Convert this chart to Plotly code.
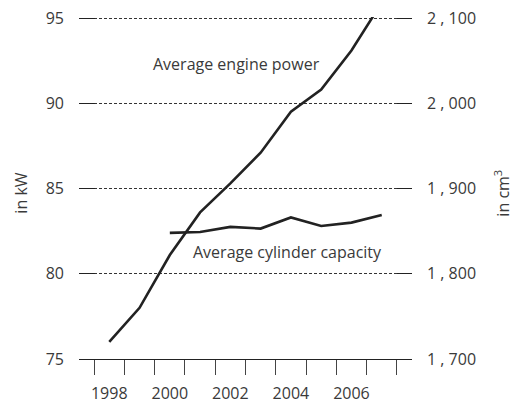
import plotly.graph_objects as go

years_power = [1998, 1999, 2000, 2001, 2002, 2003, 2004, 2005, 2006, 2007]
engine_power_kw = [76.0, 78.0, 81.1, 83.6, 85.3, 87.1, 89.5, 90.8, 93.1, 95.9]

years_capacity = [2000, 2001, 2002, 2003, 2004, 2005, 2006, 2007]
cylinder_capacity_cm3 = [1848, 1849, 1855, 1853, 1866, 1856, 1860, 1869]

x_tick_labels = [1998, 2000, 2002, 2004, 2006]
left_tick_vals = [75, 80, 85, 90, 95]
right_tick_vals = [1700, 1800, 1900, 2000, 2100]
right_tick_text = ["1 , 700", "1 , 800", "1 , 900", "2 , 000", "2 , 100"]

FONT = "Open Sans"
TEXT = "#3a3a3a"
LINE = "#222222"

fig = go.Figure()
fig.add_trace(go.Scatter(x=years_power, y=engine_power_kw, mode="lines",
                         line=dict(color=LINE, width=2.6), yaxis="y", showlegend=False))
fig.add_trace(go.Scatter(x=years_capacity, y=cylinder_capacity_cm3, mode="lines",
                         line=dict(color=LINE, width=2.6), yaxis="y2", showlegend=False))

fig.update_layout(
    width=513, height=403,
    margin=dict(l=79, r=101, t=17, b=44, autoexpand=False),
    paper_bgcolor="white", plot_bgcolor="white",
    font=dict(family=FONT, size=16, color=TEXT),
    xaxis=dict(range=[1997, 2008], tickvals=x_tick_labels, ticks="",
               ticklabelstandoff=20, showgrid=False, zeroline=False, automargin=False,
               showline=True, linecolor=LINE, linewidth=1,
               minor=dict(tick0=1997.5, dtick=1, ticks="outside", ticklen=15,
                          tickcolor="#444", tickwidth=1, showgrid=False)),
    yaxis=dict(range=[75, 95.06], tickvals=left_tick_vals, ticks="inside", ticklen=16,
               tickcolor="#222", tickwidth=1.2, ticklabelstandoff=14, automargin=False,
               showgrid=True, gridcolor="#333", griddash="3px,2px", gridwidth=1,
               zeroline=False, showline=False),
    yaxis2=dict(range=[1700, 2101.2], tickvals=right_tick_vals, ticktext=right_tick_text,
                overlaying="y", side="right", ticks="inside", ticklen=15, automargin=False,
                tickcolor="#222", tickwidth=1.2, ticklabelstandoff=14,
                showgrid=False, zeroline=False, showline=False),
    annotations=[
        dict(text="Average engine power", x=2002.19, y=92.3, xref="x", yref="y",
             showarrow=False, font=dict(size=16, color=TEXT)),
        dict(text="Average cylinder capacity", x=2003.89, y=81.29, xref="x", yref="y",
             showarrow=False, font=dict(size=16, color=TEXT)),
        dict(text="in kW", x=0, y=84.7, xref="paper", yref="y", xshift=-58,
             xanchor="center", yanchor="middle",
             textangle=-90, showarrow=False, font=dict(size=16, color=TEXT)),
        dict(text="in cm<sup>3</sup>", x=1, y=84.7, xref="paper", yref="y", xshift=90,
             xanchor="center", yanchor="middle",
             textangle=-90, showarrow=False, font=dict(size=16, color=TEXT)),
    ],
)

fig.write_html("out.html", config={"displayModeBar": False},
               post_script="document.body.style.margin='0';")
